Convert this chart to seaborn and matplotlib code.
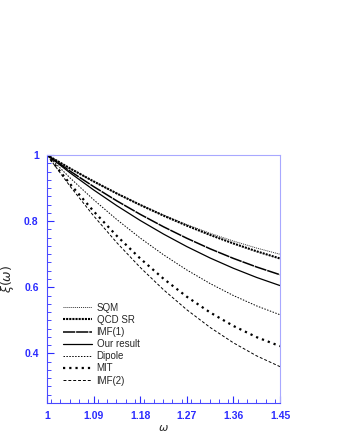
import numpy as np
import pandas as pd
import matplotlib as mpl
mpl.use('Agg')
from matplotlib import pyplot as plt
from matplotlib.ticker import MultipleLocator
import seaborn as sns

omega = [1.0, 1.045, 1.09, 1.135, 1.18, 1.225, 1.27, 1.315, 1.36, 1.405, 1.45]

sqm = [1.0, 0.9586, 0.9197, 0.8833, 0.8495, 0.8182, 0.7895, 0.7633, 0.7397, 0.7185, 0.6999]
qcd_sr = [1.0, 0.9590, 0.9202, 0.8835, 0.8490, 0.8166, 0.7864, 0.7583, 0.7324, 0.7086, 0.6870]
imf1 = [1.0, 0.9508, 0.9045, 0.8611, 0.8206, 0.7829, 0.7482, 0.7163, 0.6873, 0.6612, 0.6379]
our = [1.0, 0.9455, 0.8944, 0.8465, 0.8020, 0.7609, 0.7230, 0.6885, 0.6574, 0.6296, 0.6051]
dipole = [1.0, 0.9300, 0.8648, 0.8045, 0.7489, 0.6982, 0.6523, 0.6112, 0.5750, 0.5435, 0.5169]
mit = [1.0, 0.9115, 0.8299, 0.7550, 0.6870, 0.6258, 0.5714, 0.5238, 0.4830, 0.4490, 0.4219]
imf2 = [1.0, 0.9045, 0.8160, 0.7345, 0.6600, 0.5925, 0.5320, 0.4785, 0.4320, 0.3924, 0.3599]

names = ['SQM', 'QCD SR', 'IMF(1)', 'Our result', 'Dipole', 'MIT', 'IMF(2)']
series = [sqm, qcd_sr, imf1, our, dipole, mit, imf2]

df = pd.concat([pd.DataFrame({'omega': omega, 'xi': s, 'model': n})
                for n, s in zip(names, series)], ignore_index=True)

sns.set_style('ticks')
plt.rcParams['font.family'] = ['Liberation Sans', 'DejaVu Sans']

styles = {
    'SQM': dict(ls=(0, (1, 1)), lw=0.7, color='#333333'),
    'QCD SR': dict(ls=(0, (1, 0.5)), lw=1.5, color='black'),
    'IMF(1)': dict(ls=(0, (8, 0.6)), lw=1.1, color='black'),
    'Our result': dict(ls='-', lw=0.9, color='black'),
    'Dipole': dict(ls=(0, (1.5, 1.5)), lw=0.7, color='black'),
    'MIT': dict(ls=(0, (1, 1.8)), lw=1.6, color='black'),
    'IMF(2)': dict(ls=(0, (3, 2)), lw=0.7, color='black'),
}

fig = plt.figure(figsize=(3.37, 4.36), dpi=100)
ax = fig.add_axes([0.1395, 0.0757, 0.6914, 0.5688])

for n in names:
    st = styles[n]
    sns.lineplot(data=df[df['model'] == n], x='omega', y='xi', ax=ax,
                 color=st['color'], linewidth=st['lw'], linestyle=st['ls'],
                 label=n)

ax.set_xlim(1, 1.45)
ax.set_ylim(0.25, 1.0)
ax.set_xticks([1, 1.09, 1.18, 1.27, 1.36, 1.45])
ax.set_xticklabels(['1', '1.09', '1.18', '1.27', '1.36', '1.45'])
ax.set_yticks([0.4, 0.6, 0.8, 1.0])
ax.set_yticklabels(['0.4', '0.6', '0.8', '1'])
ax.xaxis.set_minor_locator(MultipleLocator(0.018))
ax.yaxis.set_minor_locator(MultipleLocator(0.025))

blue = '#2b2bff'
ax.tick_params(which='both', direction='in', colors=blue, labelsize=7.5,
               top=False, right=False, pad=6)
ax.tick_params(which='major', length=5, width=0.8)
ax.tick_params(which='minor', length=3, width=0.6)
for lab in ax.get_xticklabels() + ax.get_yticklabels():
    lab.set_fontweight('bold')
    lab.set_color(blue)
ax.spines['left'].set_color('#4a4aff')
ax.spines['bottom'].set_color('#4a4aff')
ax.spines['top'].set_color('#a8a8ff')
ax.spines['right'].set_color('#a8a8ff')
for sp in ax.spines.values():
    sp.set_linewidth(0.8)

ax.set_xlabel(r'$\omega$', fontsize=8, labelpad=1)
ax.set_ylabel(r'$\xi(\omega)$', fontsize=9, labelpad=6)

leg = ax.legend(loc='upper left', bbox_to_anchor=(0.05, 0.42), frameon=False,
                fontsize=7, handlelength=3.0, handletextpad=0.5,
                labelspacing=0.22, borderaxespad=0)

fig.savefig('out.png', dpi=100)
